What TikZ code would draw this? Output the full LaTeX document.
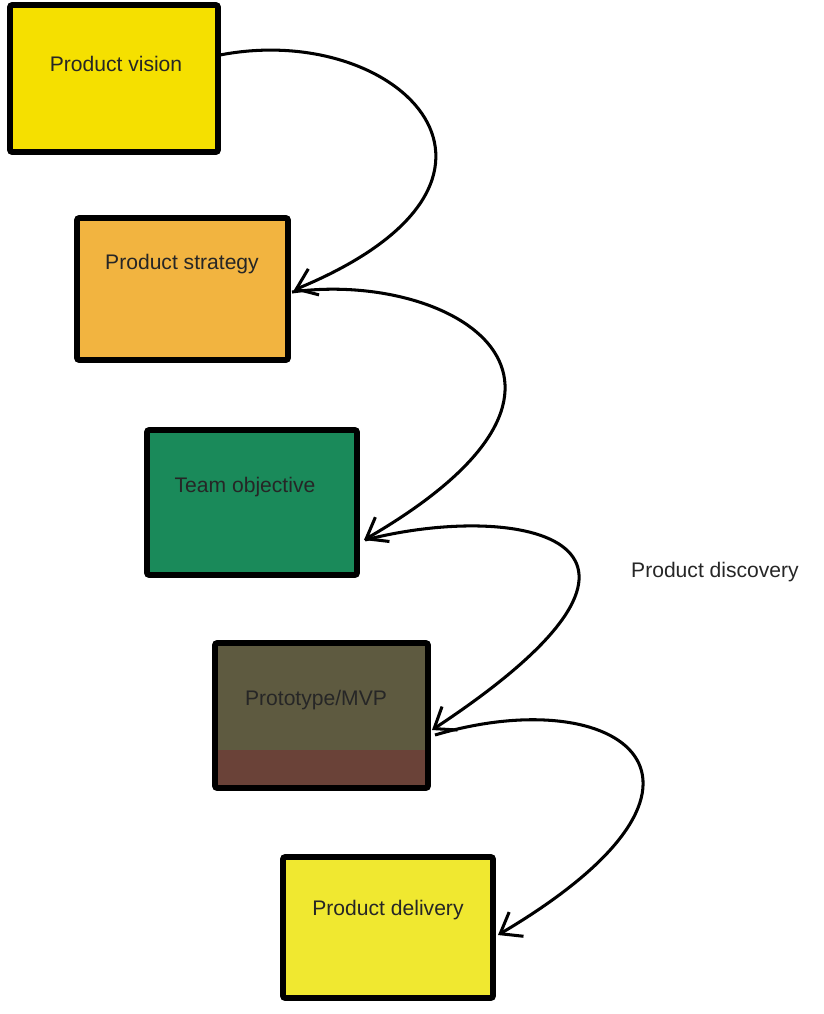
\documentclass[tikz,border=0pt]{standalone}
\usepackage{fontspec}
\setmainfont{Liberation Sans}
\usetikzlibrary{arrows.meta}
\definecolor{cyel}{HTML}{F5E000}
\definecolor{corg}{HTML}{F2B440}
\definecolor{cgrn}{HTML}{1A8A5A}
\definecolor{cbrn}{HTML}{5E5A40}
\definecolor{cred}{HTML}{6A4238}
\definecolor{cyel2}{HTML}{F0E830}
\begin{document}
\begin{tikzpicture}[x=0.03cm,y=-0.03cm,
  box/.style={draw=black,line width=5pt,rounded corners=2pt},
  lab/.style={font=\fontsize{18pt}{21pt}\selectfont,text=black!85},
  arr/.style={line width=2.6pt,-{Straight Barb[length=16pt,width=24pt]}}]
\useasboundingbox (0,0) rectangle (824,1014);
\draw[box,fill=cyel] (10,5) rectangle (218,152);
\node[lab] (v) at (116,64) {Product vision};
\draw[box,fill=corg] (77,218) rectangle (288,360);
\node[lab] (s) at (182,264) {Product strategy};
\draw[box,fill=cgrn] (147,430) rectangle (357,575);
\node[lab] (t) at (245,487) {Team objective};
\fill[cred] (215,700) rectangle (428,788);
\fill[cbrn] (215,643) rectangle (428,750);
\draw[box] (215,643) rectangle (428,788);
\node[lab] (p) at (316,700) {Prototype/MVP};
\draw[box,fill=cyel2] (283,857) rectangle (493,998);
\node[lab] (d) at (388,910) {Product delivery};
\coordinate (a1) at (220,55); \coordinate (b1) at (294,290);
\coordinate (a2) at (292,292); \coordinate (b2) at (364,540);
\coordinate (a3) at (365,540); \coordinate (b3) at (432,730);
\coordinate (a4) at (435,735); \coordinate (b4) at (498,935);
\draw[arr] (a1) .. controls (400,20) and (560,180) .. (b1);
\draw[arr] (a2) .. controls (450,270) and (640,380) .. (b2);
\draw[arr] (a3) .. controls (520,500) and (720,540) .. (b3);
\draw[arr] (a4) .. controls (620,680) and (760,780) .. (b4);
\node[lab] (pd) at (715,572) {Product discovery};
\end{tikzpicture}
\end{document}
